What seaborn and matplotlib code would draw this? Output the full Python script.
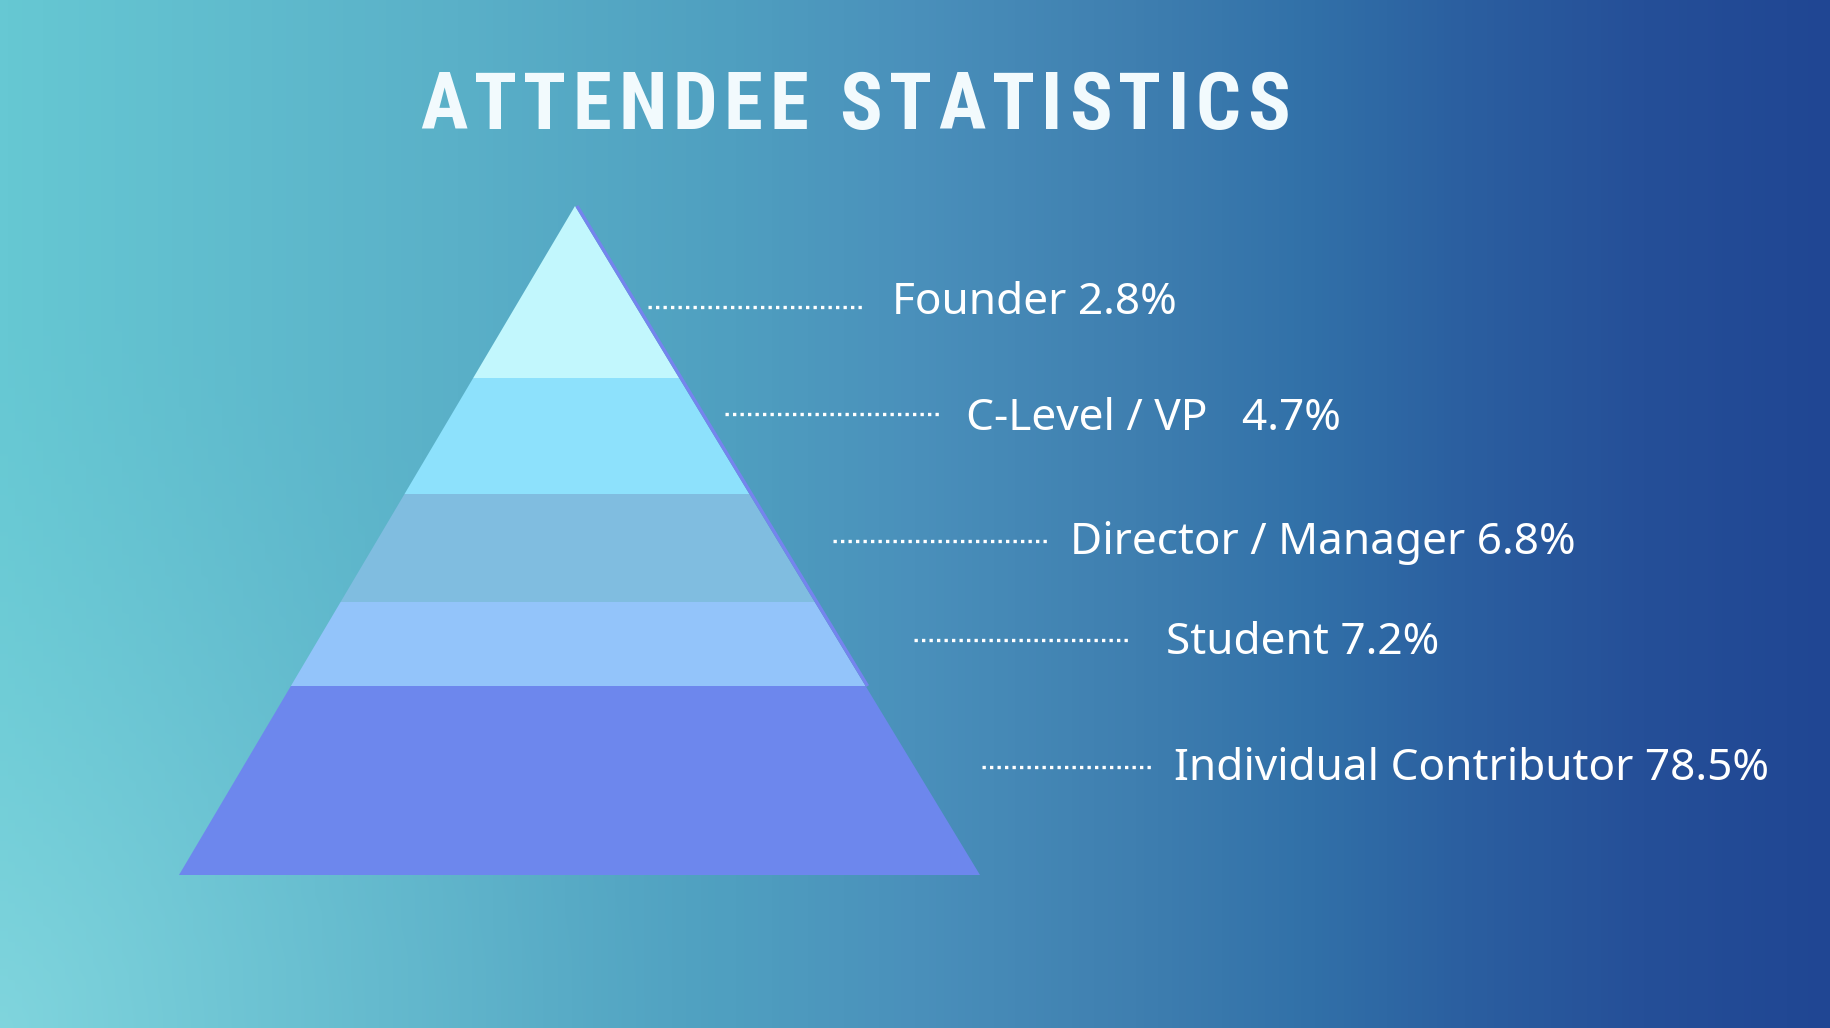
import numpy as np
import pandas as pd
import matplotlib
matplotlib.use("Agg")
import matplotlib.pyplot as plt
from matplotlib.patches import Polygon
from matplotlib.colors import LinearSegmentedColormap, to_rgb
from matplotlib.font_manager import FontProperties, fontManager
import seaborn as sns

# ---------------- data ----------------
categories = ["Founder", "C-Level / VP", "Director / Manager", "Student", "Individual Contributor"]
shares = [2.8, 4.7, 6.8, 7.2, 78.5]
separators = [" ", "   ", " ", " ", " "]
title_text = "ATTENDEE STATISTICS"

# ---------------- layout / style ----------------
W, H = 1830, 1028
apex = (575, 206)
base_y, base_l, base_r = 875, 179, 980
band_edges_y = [206, 378, 494, 602, 686, 875]
band_colors = ["#c2f7fd", "#8de1fc", "#80bde0", "#93c4fa", "#6d87ed"]
label_x = [892, 966, 1070, 1166, 1174]
label_base = [314, 430, 554, 654, 780]
lead_x0 = [648, 725, 833, 914, 982]
lead_x1 = [864, 941, 1049, 1129, 1153]
lead_y = [307, 414, 541, 640, 767]

sns.set_theme(style="white")
plt.rcParams["font.family"] = ["Noto Sans", "DejaVu Sans"]

fig = plt.figure(figsize=(W / 100, H / 100), dpi=100)
ax = fig.add_axes([0, 0, 1, 1])
ax.set_xlim(0, W)
ax.set_ylim(H, 0)
ax.axis("off")

# background gradient
stops = [(0.0, "#66c8d3"), (0.25, "#5ab0c8"), (0.40, "#4f9fc0"), (0.50, "#4a90bb"),
         (0.62, "#3f7fb0"), (0.72, "#3170a8"), (0.80, "#2b5fa0"), (0.90, "#254f98"),
         (1.0, "#204693")]
cmap = LinearSegmentedColormap.from_list("bg", stops)
xs = np.linspace(0, 1, W)
ys = np.linspace(0, 1, H)
XX, YY = np.meshgrid(xs, ys)
img = cmap(XX)[..., :3]
d = np.sqrt((XX * W / H) ** 2 + (1 - YY) ** 2)
glow = np.clip(1 - d / 0.7, 0, 1) ** 1.6 * 0.35
img = img * (1 - glow[..., None]) + np.array(to_rgb("#b0ecf0")) * glow[..., None]
ax.imshow(img, extent=[0, W, H, 0], aspect="auto", zorder=0, interpolation="bilinear")


def side_x(y, base_x):
    return apex[0] + (base_x - apex[0]) * (y - apex[1]) / (base_y - apex[1])


# pyramid bands
for i, c in enumerate(band_colors):
    y0, y1 = band_edges_y[i], band_edges_y[i + 1]
    pts = [(side_x(y0, base_l), y0), (side_x(y0, base_r), y0),
           (side_x(y1, base_r), y1), (side_x(y1, base_l), y1)]
    ax.add_patch(Polygon(pts, closed=True, facecolor=c, edgecolor="none", zorder=2))

# thin right-edge stroke
ye = band_edges_y[-2]
ax.plot([apex[0] + 2, side_x(ye, base_r) + 2], [apex[1], ye], color="#7584ee",
        linewidth=2.4, solid_capstyle="butt", zorder=3)

# leader lines
for x0, x1, y in zip(lead_x0, lead_x1, lead_y):
    sns.lineplot(x=[x0, x1], y=[y, y], ax=ax, color="white", linewidth=2.4,
                 linestyle=(0, (1.0, 1.25)), dash_capstyle="butt", zorder=4)

# labels
for cat, sep, s, x, y in zip(categories, separators, shares, label_x, label_base):
    ax.text(x, y, f"{cat}{sep}{s}%", color="white", fontsize=31.8,
            ha="left", va="baseline", zorder=5)

# title font: prefer a condensed bold face
names = {f.name for f in fontManager.ttflist}
cond = [f for f in fontManager.ttflist if f.name == "DejaVu Sans" and f.stretch in ("condensed", 500)]
if "Liberation Sans Narrow" in names:
    tprop = FontProperties(family="Liberation Sans Narrow", weight="bold", size=55)
elif "Roboto Condensed" in names:
    tprop = FontProperties(family="Roboto Condensed", weight="bold", size=57)
elif any("Condensed" in f.fname and "DejaVu" in f.fname for f in fontManager.ttflist):
    tprop = FontProperties(family="DejaVu Sans", weight="bold", stretch="condensed", size=55)
else:
    tprop = FontProperties(family="Roboto", weight="bold", size=54)

renderer = fig.canvas.get_renderer()
widths = [renderer.get_text_width_height_descent(ch, tprop, ismath=False)[0] for ch in title_text]
t_left, t_right = 420, 1290
spacing = (t_right - t_left - sum(widths)) / (len(title_text) - 1)
cx = t_left
for ch, w in zip(title_text, widths):
    ax.text(cx, 129, ch, fontproperties=tprop, color="#f2fafd", ha="left", va="baseline", zorder=5)
    cx += w + spacing

fig.savefig("out.png", dpi=100)
